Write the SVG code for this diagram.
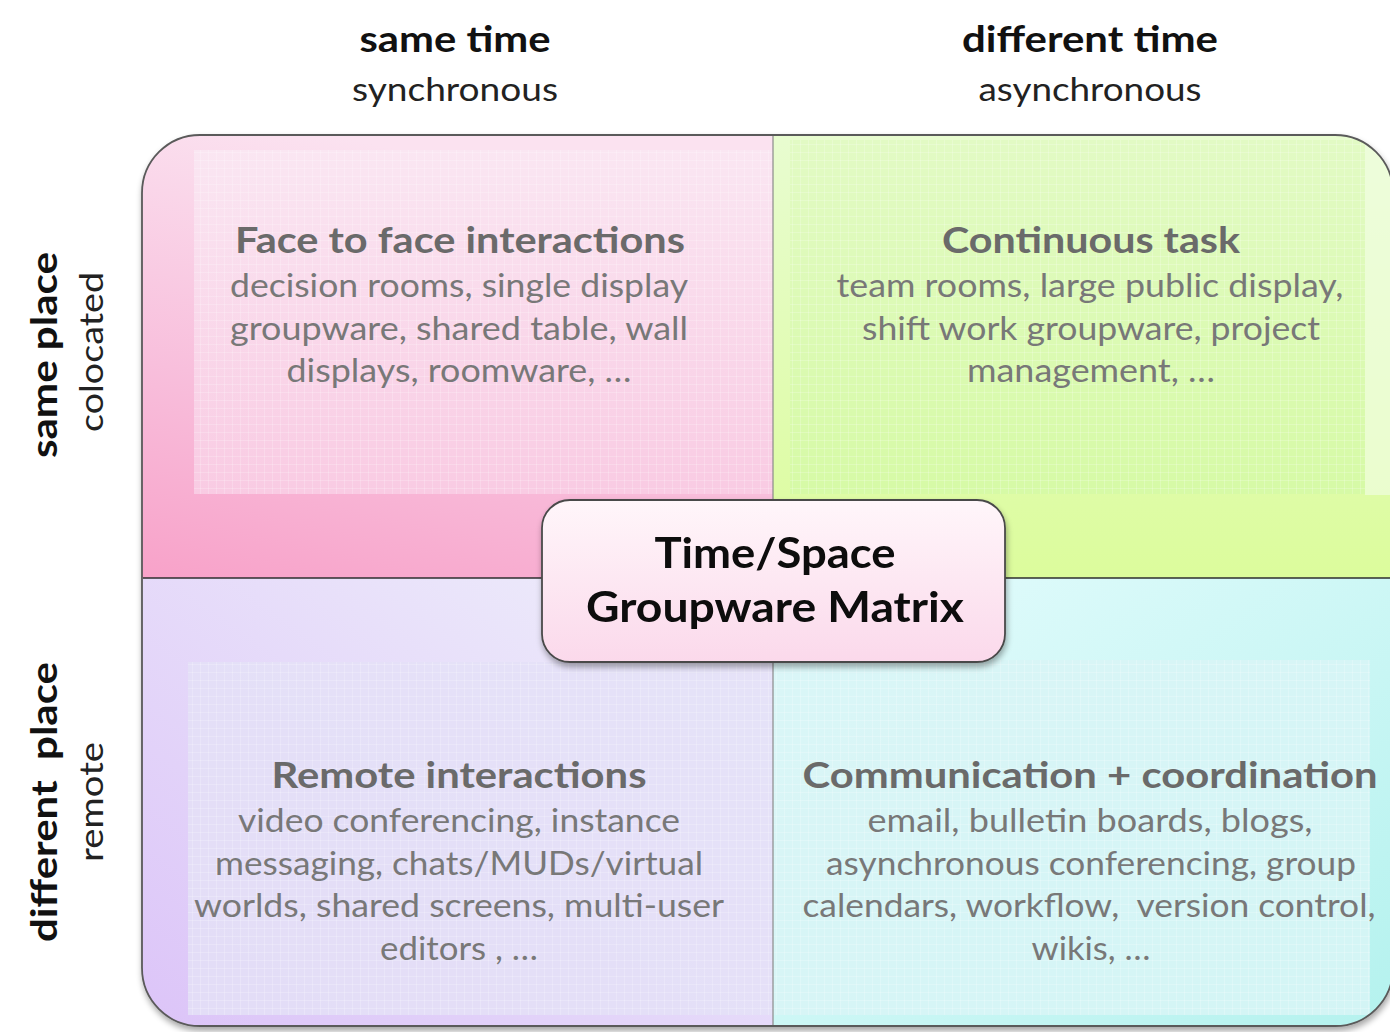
<svg xmlns="http://www.w3.org/2000/svg" width="1390" height="1032" viewBox="0 0 1390 1032">
  <defs>
    <style>
      .hdr { font-family: Lato, "Liberation Sans", sans-serif; font-weight: 700; font-size: 36px; fill: #111; text-anchor: middle; }
      .sub { font-family: Lato, "Liberation Sans", sans-serif; font-weight: 400; font-size: 32px; fill: #222; text-anchor: middle; }
      .qt { font-family: Lato, "Liberation Sans", sans-serif; font-weight: 700; font-size: 37px; fill: #6a6a6a; text-anchor: middle; }
      .qb { font-family: Lato, "Liberation Sans", sans-serif; font-weight: 400; font-size: 32px; fill: #787878; text-anchor: middle; }
      .ct { font-family: Lato, "Liberation Sans", sans-serif; font-weight: 700; font-size: 42px; fill: #0a0a0a; text-anchor: middle; }
      .vdiv { stroke: #8a8a8a; stroke-width: 1.2; fill: none; }
      .hdiv { stroke: #2e2e2e; stroke-width: 1.6; fill: none; }
    </style>
    <clipPath id="outerClip">
      <rect x="142" y="135" width="1251" height="891" rx="58" ry="58"/>
    </clipPath>
    <linearGradient id="gPink" x1="0.3" y1="0" x2="0" y2="1">
      <stop offset="0" stop-color="#fbe2f0"/>
      <stop offset="0.55" stop-color="#f8bfdc"/>
      <stop offset="1" stop-color="#f8a2c9"/>
    </linearGradient>
    <linearGradient id="gPinkIn" x1="0" y1="0" x2="0" y2="1">
      <stop offset="0" stop-color="#fae6f2"/>
      <stop offset="1" stop-color="#f9cbe3"/>
    </linearGradient>
    <linearGradient id="gGreen" x1="0" y1="0" x2="0" y2="1">
      <stop offset="0" stop-color="#e8fcd0"/>
      <stop offset="1" stop-color="#dcfc9c"/>
    </linearGradient>
    <linearGradient id="gGreenIn" x1="0" y1="0" x2="0" y2="1">
      <stop offset="0" stop-color="#e2fac4"/>
      <stop offset="1" stop-color="#d6faa6"/>
    </linearGradient>
    <linearGradient id="gLav" x1="1" y1="0" x2="0" y2="1">
      <stop offset="0" stop-color="#eff0fb"/>
      <stop offset="1" stop-color="#dcc4f8"/>
    </linearGradient>
    <linearGradient id="gCyan" x1="0" y1="0" x2="1" y2="1">
      <stop offset="0" stop-color="#e6fcfd"/>
      <stop offset="1" stop-color="#b4f2ee"/>
    </linearGradient>
    <linearGradient id="gCenter" x1="0" y1="0" x2="0" y2="1">
      <stop offset="0" stop-color="#fff6fa"/>
      <stop offset="1" stop-color="#fbd9eb"/>
    </linearGradient>
    <pattern id="grid" width="8" height="8" patternUnits="userSpaceOnUse">
      <path d="M8 0H0V8" fill="none" stroke="#ffffff" stroke-opacity="0.4" stroke-width="1"/>
    </pattern>
    <filter id="shadow" x="-5%" y="-5%" width="110%" height="115%">
      <feGaussianBlur in="SourceAlpha" stdDeviation="3"/>
      <feOffset dx="1" dy="4"/>
      <feComponentTransfer><feFuncA type="linear" slope="0.35"/></feComponentTransfer>
      <feMerge><feMergeNode/><feMergeNode in="SourceGraphic"/></feMerge>
    </filter>
  </defs>

  <rect width="1390" height="1032" fill="#ffffff"/>

  <!-- column and row headings -->
  <g id="col-same-time">
    <text class="hdr" x="455" y="52" textLength="191" lengthAdjust="spacingAndGlyphs">same time</text>
    <text class="sub" x="455" y="101" textLength="206" lengthAdjust="spacingAndGlyphs">synchronous</text>
  </g>
  <g id="col-different-time">
    <text class="hdr" x="1090" y="52" textLength="256" lengthAdjust="spacingAndGlyphs">different time</text>
    <text class="sub" x="1090" y="101" textLength="223" lengthAdjust="spacingAndGlyphs">asynchronous</text>
  </g>
  <g id="row-same-place">
    <text class="hdr" transform="translate(57,355) rotate(-90)" textLength="206" lengthAdjust="spacingAndGlyphs">same place</text>
    <text class="sub" transform="translate(103,352) rotate(-90)" textLength="160" lengthAdjust="spacingAndGlyphs">colocated</text>
  </g>
  <g id="row-different-place">
    <text class="hdr" transform="translate(57,802) rotate(-90)" textLength="280" lengthAdjust="spacingAndGlyphs" xml:space="preserve">different  place</text>
    <text class="sub" transform="translate(103,802) rotate(-90)" textLength="120" lengthAdjust="spacingAndGlyphs">remote</text>
  </g>

  <!-- matrix body -->
  <g id="matrix" filter="url(#shadow)">
    <g clip-path="url(#outerClip)">
      <g id="q-face-to-face">
        <rect x="142" y="135" width="631" height="443" fill="url(#gPink)"/>
        <rect x="194" y="150" width="579" height="344" fill="url(#gPinkIn)"/>
        <rect x="194" y="150" width="579" height="344" fill="url(#grid)"/>
      </g>
      <g id="q-continuous">
        <rect x="773" y="135" width="620" height="443" fill="url(#gGreen)"/>
        <rect x="1365" y="135" width="28" height="360" fill="#f0fde0" fill-opacity="0.7"/>
        <rect x="790" y="140" width="575" height="354" fill="url(#gGreenIn)"/>
        <rect x="790" y="140" width="575" height="354" fill="url(#grid)"/>
      </g>
      <g id="q-remote">
        <rect x="142" y="578" width="631" height="448" fill="url(#gLav)"/>
        <rect x="188" y="662" width="585" height="353" fill="#e4e1f7" fill-opacity="0.85"/>
        <rect x="188" y="662" width="585" height="353" fill="url(#grid)"/>
      </g>
      <g id="q-communication">
        <rect x="773" y="578" width="620" height="448" fill="url(#gCyan)"/>
        <rect x="773" y="660" width="597" height="355" fill="#d8f5f6" fill-opacity="0.85"/>
        <rect x="773" y="660" width="597" height="355" fill="url(#grid)"/>
      </g>
    </g>
    <rect x="142" y="135" width="1251" height="891" rx="58" ry="58" fill="none" stroke="#5a5a5a" stroke-width="1.8"/>
  </g>

  <g id="dividers">
    <line class="vdiv" x1="773" y1="136" x2="773" y2="1025"/>
    <line class="hdiv" x1="143" y1="578" x2="1390" y2="578"/>
  </g>

  <!-- quadrant contents -->
  <g id="t-face-to-face">
    <text class="qt" x="460" y="253" textLength="450" lengthAdjust="spacingAndGlyphs">Face to face interactions</text>
    <text class="qb" x="459" y="297" textLength="458" lengthAdjust="spacingAndGlyphs">decision rooms, single display</text>
    <text class="qb" x="459" y="340" textLength="458" lengthAdjust="spacingAndGlyphs">groupware, shared table, wall</text>
    <text class="qb" x="459" y="382" textLength="345" lengthAdjust="spacingAndGlyphs">displays, roomware, …</text>
  </g>
  <g id="t-continuous">
    <text class="qt" x="1091" y="253" textLength="298" lengthAdjust="spacingAndGlyphs">Continuous task</text>
    <text class="qb" x="1090" y="297" textLength="507" lengthAdjust="spacingAndGlyphs">team rooms, large public display,</text>
    <text class="qb" x="1091" y="340" textLength="458" lengthAdjust="spacingAndGlyphs">shift work groupware, project</text>
    <text class="qb" x="1091" y="382" textLength="248" lengthAdjust="spacingAndGlyphs">management, …</text>
  </g>
  <g id="t-remote">
    <text class="qt" x="459" y="788" textLength="375" lengthAdjust="spacingAndGlyphs">Remote interactions</text>
    <text class="qb" x="459" y="832" textLength="442" lengthAdjust="spacingAndGlyphs">video conferencing, instance</text>
    <text class="qb" x="459" y="875" textLength="488" lengthAdjust="spacingAndGlyphs">messaging, chats/MUDs/virtual</text>
    <text class="qb" x="459" y="917" textLength="530" lengthAdjust="spacingAndGlyphs">worlds, shared screens, multi-user</text>
    <text class="qb" x="459" y="960" textLength="158" lengthAdjust="spacingAndGlyphs">editors , …</text>
  </g>
  <g id="t-communication">
    <text class="qt" x="1090" y="788" textLength="575" lengthAdjust="spacingAndGlyphs">Communication + coordination</text>
    <text class="qb" x="1090" y="832" textLength="445" lengthAdjust="spacingAndGlyphs">email, bulletin boards, blogs,</text>
    <text class="qb" x="1091" y="875" textLength="530" lengthAdjust="spacingAndGlyphs">asynchronous conferencing, group</text>
    <text class="qb" x="1089" y="917" textLength="573" lengthAdjust="spacingAndGlyphs" xml:space="preserve">calendars, workflow,  version control,</text>
    <text class="qb" x="1091" y="960" textLength="119" lengthAdjust="spacingAndGlyphs">wikis, …</text>
  </g>

  <!-- centre label -->
  <g id="center-node" filter="url(#shadow)">
    <rect x="542" y="500" width="463" height="162" rx="28" ry="28" fill="url(#gCenter)" stroke="#4a4a4a" stroke-width="1.8"/>
    <text class="ct" x="775" y="568" textLength="241" lengthAdjust="spacingAndGlyphs">Time/Space</text>
    <text class="ct" x="775" y="622" textLength="378" lengthAdjust="spacingAndGlyphs">Groupware Matrix</text>
  </g>
</svg>
